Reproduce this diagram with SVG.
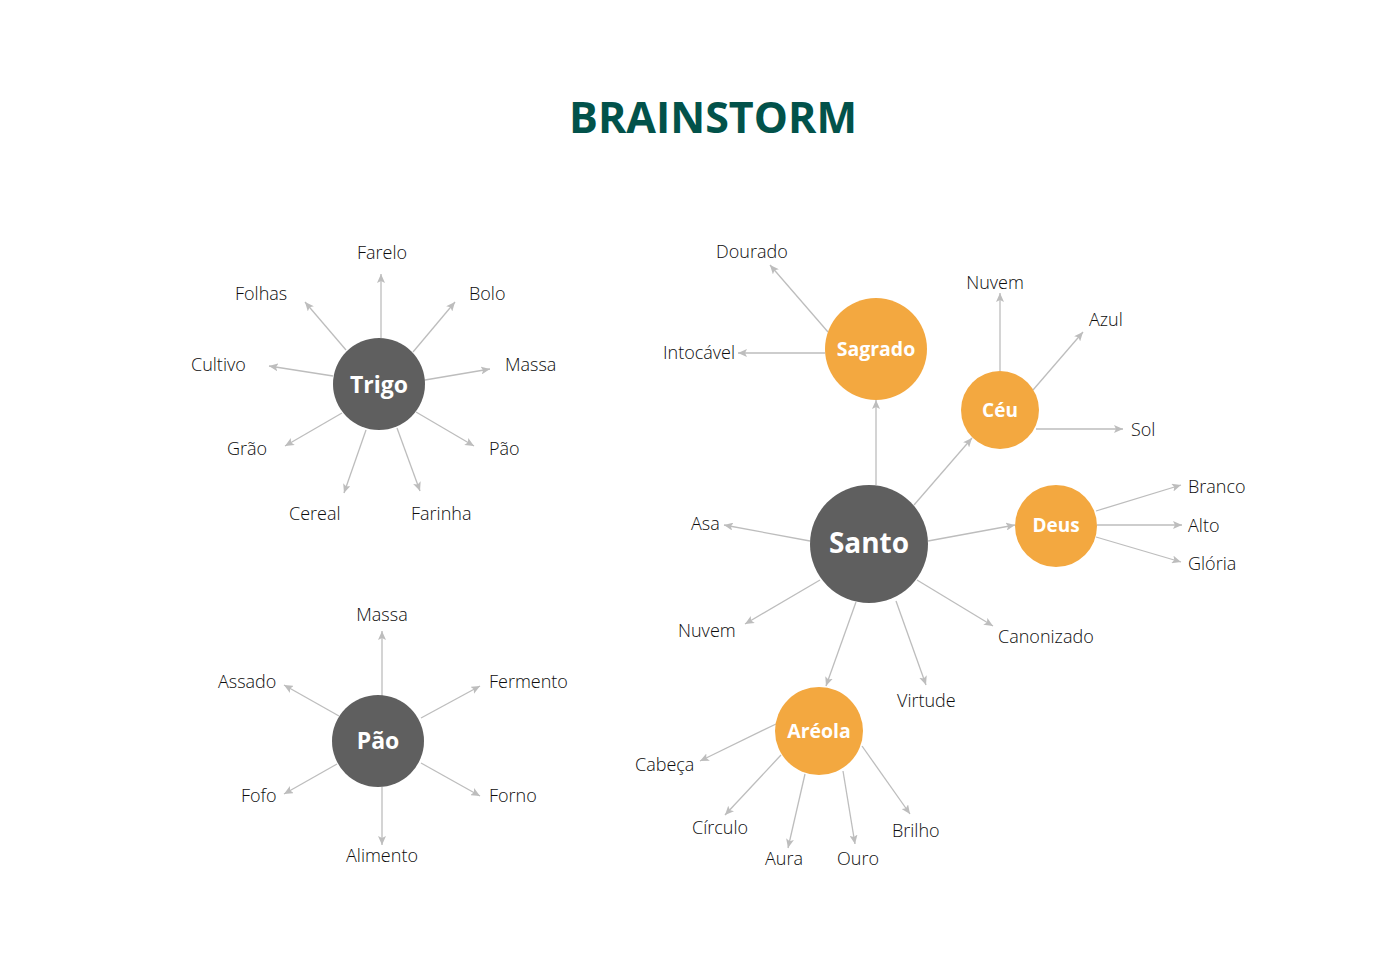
<svg xmlns="http://www.w3.org/2000/svg" width="1400" height="965" viewBox="0 0 1400 965">
<style>
.title{font-family:"Open Sans","Liberation Sans",sans-serif;font-weight:700;font-size:43px;fill:#02524a}
.lbl{font-family:"Open Sans","Liberation Sans",sans-serif;font-weight:300;font-size:18px;fill:#0d0d0d}
.nt{font-family:"Open Sans","Liberation Sans",sans-serif;font-weight:700;fill:#ffffff;text-anchor:middle}
.dark{fill:#5f5f5f}
.orange{fill:#f3a840}
.conn line{stroke:#bdbdbd;stroke-width:1.3;marker-end:url(#ah)}
</style>
<defs>
<marker id="ah" markerUnits="userSpaceOnUse" markerWidth="10" markerHeight="8" refX="9" refY="4" orient="auto">
<path d="M0,0 L9,4 L0,8 L2,4 Z" fill="#bdbdbd"/>
</marker>
</defs>
<rect width="1400" height="965" fill="#ffffff"/>
<text class="title" x="713" y="133" text-anchor="middle">BRAINSTORM</text>

<g id="connectors" class="conn">
<!-- Trigo -->
<line x1="381" y1="338" x2="381" y2="274"/>
<line x1="413" y1="352" x2="455" y2="302"/>
<line x1="425" y1="380" x2="490" y2="369"/>
<line x1="416" y1="412" x2="474" y2="446"/>
<line x1="397" y1="428" x2="420" y2="491"/>
<line x1="366" y1="430" x2="344" y2="493"/>
<line x1="342" y1="413" x2="285" y2="446"/>
<line x1="333" y1="376" x2="269" y2="366"/>
<line x1="346" y1="350" x2="305" y2="302"/>
<!-- Pão -->
<line x1="382" y1="696" x2="382" y2="631"/>
<line x1="421" y1="718" x2="480" y2="686"/>
<line x1="421" y1="763" x2="480" y2="796"/>
<line x1="382" y1="787" x2="382" y2="845"/>
<line x1="337" y1="764" x2="284" y2="794"/>
<line x1="339" y1="716" x2="284" y2="685"/>
<!-- Santo -->
<line x1="876" y1="485" x2="876" y2="400"/>
<line x1="914" y1="505" x2="972" y2="438"/>
<line x1="928" y1="541" x2="1015" y2="525"/>
<line x1="810" y1="541" x2="724" y2="525"/>
<line x1="820" y1="580" x2="745" y2="624"/>
<line x1="917" y1="580" x2="993" y2="626"/>
<line x1="896" y1="601" x2="926" y2="685"/>
<line x1="856" y1="602" x2="826" y2="686"/>
<!-- Sagrado -->
<line x1="828" y1="332" x2="770" y2="265"/>
<line x1="825" y1="353" x2="738" y2="353"/>
<!-- Céu -->
<line x1="1000" y1="371" x2="1000" y2="293"/>
<line x1="1033" y1="390" x2="1083" y2="332"/>
<line x1="1036" y1="429" x2="1123" y2="429"/>
<!-- Deus -->
<line x1="1096" y1="511" x2="1181" y2="485"/>
<line x1="1097" y1="525" x2="1182" y2="525"/>
<line x1="1096" y1="537" x2="1181" y2="562"/>
<!-- Aréola -->
<line x1="776" y1="724" x2="700" y2="761"/>
<line x1="781" y1="755" x2="725" y2="815"/>
<line x1="805" y1="774" x2="788" y2="848"/>
<line x1="843" y1="771" x2="855" y2="844"/>
<line x1="862" y1="746" x2="910" y2="814"/>
</g>

<g id="trigo">
<circle class="dark" cx="379" cy="384" r="46"/>
<text class="nt" x="379" y="393" font-size="23">Trigo</text>
</g>
<g id="trigo-labels">
<text class="lbl" x="382" y="259" text-anchor="middle">Farelo</text>
<text class="lbl" x="469" y="300">Bolo</text>
<text class="lbl" x="505" y="371">Massa</text>
<text class="lbl" x="489" y="455">Pão</text>
<text class="lbl" x="411" y="520">Farinha</text>
<text class="lbl" x="289" y="520">Cereal</text>
<text class="lbl" x="227" y="455">Grão</text>
<text class="lbl" x="191" y="371">Cultivo</text>
<text class="lbl" x="235" y="300">Folhas</text>
</g>

<g id="pao">
<circle class="dark" cx="378" cy="741" r="46"/>
<text class="nt" x="378" y="749" font-size="23">Pão</text>
</g>
<g id="pao-labels">
<text class="lbl" x="382" y="621" text-anchor="middle">Massa</text>
<text class="lbl" x="489" y="688">Fermento</text>
<text class="lbl" x="489" y="802">Forno</text>
<text class="lbl" x="382" y="862" text-anchor="middle">Alimento</text>
<text class="lbl" x="241" y="802">Fofo</text>
<text class="lbl" x="218" y="688">Assado</text>
</g>

<g id="santo">
<circle class="dark" cx="869" cy="544" r="59"/>
<text class="nt" x="869" y="553" font-size="28">Santo</text>
</g>
<g id="sagrado">
<circle class="orange" cx="876" cy="349" r="51"/>
<text class="nt" x="876" y="356" font-size="19.5">Sagrado</text>
</g>
<g id="ceu">
<circle class="orange" cx="1000" cy="410" r="39"/>
<text class="nt" x="1000" y="417" font-size="19">Céu</text>
</g>
<g id="deus">
<circle class="orange" cx="1056" cy="526" r="41"/>
<text class="nt" x="1056" y="532" font-size="19">Deus</text>
</g>
<g id="areola">
<circle class="orange" cx="819" cy="731" r="44"/>
<text class="nt" x="819" y="738" font-size="19.5">Aréola</text>
</g>
<g id="santo-labels">
<text class="lbl" x="691" y="530">Asa</text>
<text class="lbl" x="678" y="637">Nuvem</text>
<text class="lbl" x="998" y="643">Canonizado</text>
<text class="lbl" x="897" y="707">Virtude</text>
<text class="lbl" x="716" y="258">Dourado</text>
<text class="lbl" x="663" y="359">Intocável</text>
<text class="lbl" x="995" y="289" text-anchor="middle">Nuvem</text>
<text class="lbl" x="1089" y="326">Azul</text>
<text class="lbl" x="1131" y="436">Sol</text>
<text class="lbl" x="1188" y="493">Branco</text>
<text class="lbl" x="1188" y="532">Alto</text>
<text class="lbl" x="1188" y="570">Glória</text>
<text class="lbl" x="635" y="771">Cabeça</text>
<text class="lbl" x="692" y="834">Círculo</text>
<text class="lbl" x="765" y="865">Aura</text>
<text class="lbl" x="837" y="865">Ouro</text>
<text class="lbl" x="892" y="837">Brilho</text>
</g>
</svg>
